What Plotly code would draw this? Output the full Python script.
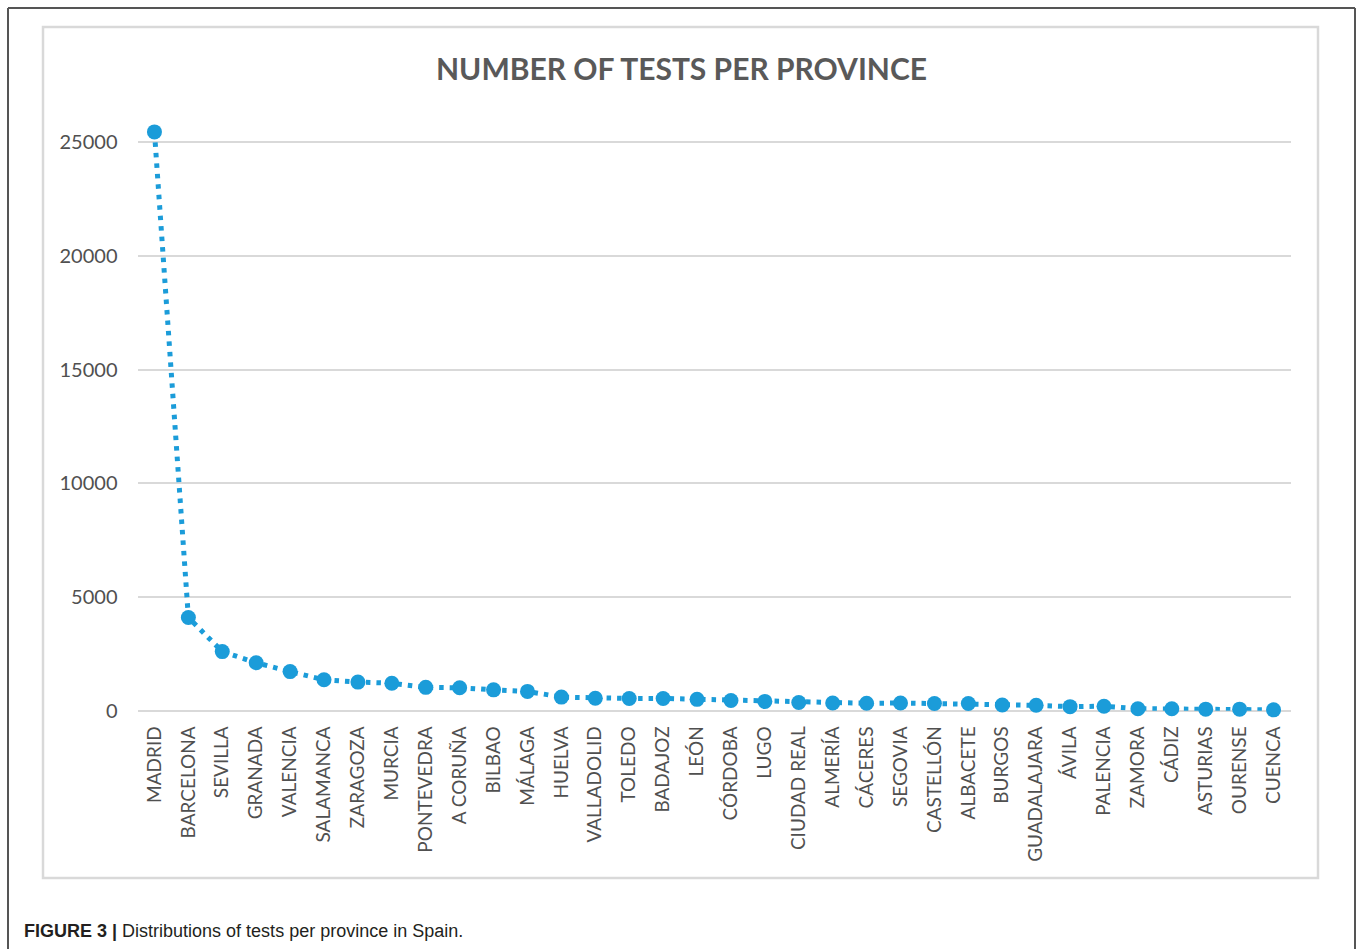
import plotly.graph_objects as go

provinces = ["MADRID", "BARCELONA", "SEVILLA", "GRANADA", "VALENCIA", "SALAMANCA",
             "ZARAGOZA", "MURCIA", "PONTEVEDRA", "A CORUÑA", "BILBAO", "MÁLAGA",
             "HUELVA", "VALLADOLID", "TOLEDO", "BADAJOZ", "LEÓN", "CÓRDOBA", "LUGO",
             "CIUDAD REAL", "ALMERÍA", "CÁCERES", "SEGOVIA", "CASTELLÓN", "ALBACETE",
             "BURGOS", "GUADALAJARA", "ÁVILA", "PALENCIA", "ZAMORA", "CÁDIZ",
             "ASTURIAS", "OURENSE", "CUENCA"]
tests = [25450, 4100, 2600, 2110, 1720, 1360, 1260, 1210, 1030, 1010, 920, 850,
         600, 550, 540, 540, 500, 450, 410, 360, 340, 330, 340, 320, 320,
         250, 240, 180, 200, 90, 90, 70, 70, 40]
y_ticks = [0, 5000, 10000, 15000, 20000, 25000]

W = 1357
H = 949          # reference picture height used for all paper fractions
FIG_H = 961      # rendered height (capture is scaled back to 949)
BLUE = "#1b9cd9"
TXT = "#595959"
Y_TOP = 25800
px_per_unit = (710 - 142) / 25000
plot_top = 710 - Y_TOP * px_per_unit

fig = go.Figure()
fig.add_trace(go.Scatter(
    x=provinces, y=tests, mode="lines+markers",
    line=dict(color=BLUE, width=5, dash="4.5px,6px"),
    marker=dict(color=BLUE, size=15),
    cliponaxis=False, showlegend=False,
))

fig.update_layout(
    width=W, height=FIG_H,
    margin=dict(l=0, r=0, t=0, b=0),
    paper_bgcolor="white", plot_bgcolor="white",
    font=dict(family="Lato, Open Sans, sans-serif", color=TXT),
    xaxis=dict(domain=[137.5 / W, 1290.5 / W], range=[-0.5, len(provinces) - 0.5],
               tickangle=-90, showgrid=False,
               showline=False, zeroline=False, ticks="outside", ticklen=7,
               tickcolor="rgba(0,0,0,0)", tickfont=dict(size=19, color="#505050")),
    yaxis=dict(domain=[(H - 710) / H, (H - plot_top) / H], range=[0, Y_TOP],
               tickvals=y_ticks, ticktext=[str(v) for v in y_ticks],
               showgrid=True, gridcolor="#d9d9d9", gridwidth=2,
               zeroline=True, zerolinecolor="#d9d9d9", zerolinewidth=2,
               showline=False, ticks="outside", ticklen=15,
               tickcolor="rgba(0,0,0,0)", tickfont=dict(size=20, color="#505050")),
)

# outer figure frame
fig.add_shape(type="line", xref="paper", yref="paper",
              x0=8 / W, x1=8 / W, y0=0, y1=(H - 8) / H,
              line=dict(color="#555555", width=2))
fig.add_shape(type="line", xref="paper", yref="paper",
              x0=8 / W, x1=1355 / W, y0=(H - 8) / H, y1=(H - 8) / H,
              line=dict(color="#555555", width=2))
fig.add_shape(type="line", xref="paper", yref="paper",
              x0=1355 / W, x1=1355 / W, y0=0, y1=(H - 8) / H,
              line=dict(color="#555555", width=2))
# inner chart box
fig.add_shape(type="rect", xref="paper", yref="paper",
              x0=43 / W, x1=1318 / W, y0=(H - 877) / H, y1=(H - 27) / H,
              line=dict(color="#d9d9d9", width=2.5), layer="below")

fig.add_annotation(text="<b>NUMBER OF TESTS PER PROVINCE</b>", xref="paper", yref="paper",
                   x=681 / W, y=(H - 68) / H, xanchor="center", yanchor="middle",
                   showarrow=False, font=dict(size=30, color=TXT, family="Lato, Open Sans, sans-serif"))
fig.add_annotation(text="<b>FIGURE 3 |</b> Distributions of tests per province in Spain.",
                   xref="paper", yref="paper", x=22 / W, y=(H - 930) / H,
                   xanchor="left", yanchor="middle", showarrow=False,
                   font=dict(size=18, color="#231f20", family="Liberation Sans, Arial, sans-serif"))

post = ("document.body.style.margin='0px';document.body.style.overflow='hidden';"
        "var d=document.getElementById('{plot_id}');d.style.position='fixed';"
        "d.style.left='0px';d.style.top='0px';")
fig.write_html("out.html", post_script=post, config={"displayModeBar": False})
